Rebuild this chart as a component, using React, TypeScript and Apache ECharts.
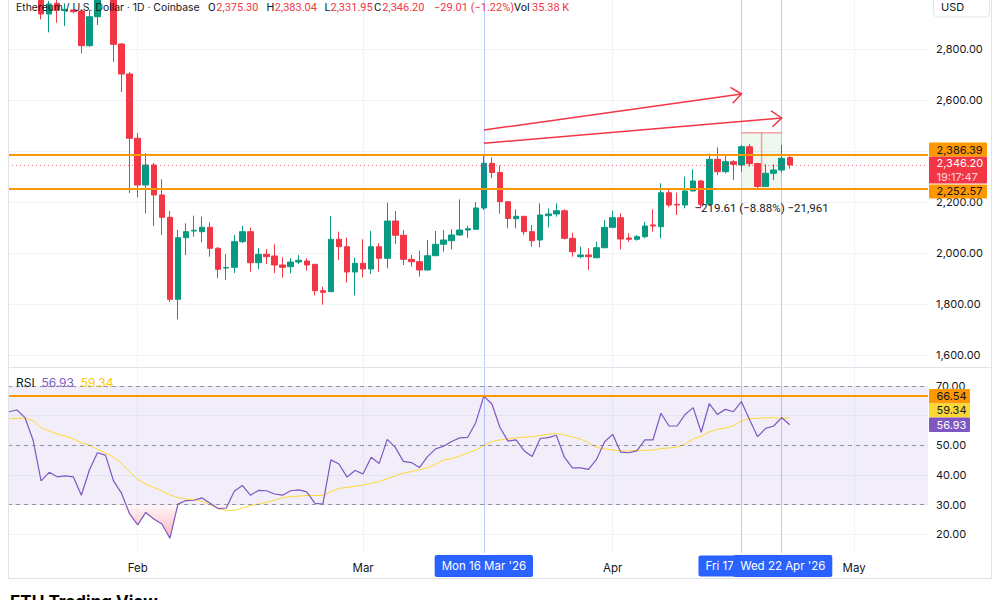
import React, { useEffect, useRef } from "react";
import * as echarts from "echarts";

// ---------- DATA ----------
const firstCandleDate = "2026-01-20";
const candleOpen = [
  3010, 2938.4, 2980.4, 2951.3, 2954.1, 2950.2, 2814.1, 2927.8, 3005, 3000, 2820.7, 2703.1,
  2450.9, 2267.7, 2346.2, 2228.5, 2141.0, 1819.4, 2061.0, 2087.3, 2084.6, 2101.8, 2019.5, 1942.2, 1945.0, 2045.4,
  2084.6, 1962.9, 1995.9, 1989.2, 1954.0, 1947.3, 1965.7, 1969.7, 1956.7, 1853.2, 1849.3, 2054.8, 2025.7, 1926.5,
  1960.6, 1938.3, 2025.7, 1980.2, 2126.5, 2070.5, 1976.3, 1966.9, 1934.4, 1990.4, 2035.2, 2049.3, 2071.6, 2091.2,
  2094.0, 2177.5, 2352.8, 2316.8, 2202.2, 2135.5, 2144.9, 2084.6, 2052.0, 2147.3, 2154.0, 2166.9, 2058.7, 1986.5,
  1993.2, 1982.6, 2021.8,
  2101.8, 2139.5, 2059.9, 2054.8, 2065.0, 2110.9, 2104.2, 2237.5, 2192.0, 2189.3, 2244.2, 2283.4, 2192.0, 2368.5,
  2319.9, 2359.1, 2346.2, 2417.9, 2352.0, 2261.8, 2313.6, 2326.6, 2375.3,
];
const candleHigh = [
  3030, 2990, 2996, 2980.4, 2958.0, 2958.0, 2954.1, 3020, 3045, 3012, 2824.7, 2710.9,
  2471.7, 2393.2, 2354.0, 2290.1, 2165.8, 2091.2, 2117.5, 2147.3, 2143.4, 2121.4, 2024.6, 1997.1, 2071.6, 2107.0,
  2100.3, 2020.6, 2016.7, 2035.2, 1984.1, 1980.2, 1993.2, 1980.2, 1957.9, 1868.9, 2146.2, 2084.6, 2062.6, 1982.6,
  2054.8, 2087.3, 2039.1, 2198.3, 2165.8, 2091.2, 1993.2, 2010.1, 2052.0, 2087.3, 2091.2, 2094.0, 2211.6, 2107.0,
  2201.1, 2386.39, 2376.4, 2344.2, 2205.0, 2172.4, 2146.2, 2110.9, 2195.9, 2176.3, 2195.9, 2172.4, 2080.7, 2025.7,
  2019.5, 2045.4, 2130.5,
  2167.0, 2156.8, 2078.3, 2071.6, 2123.8, 2172.4, 2274.4, 2248.1, 2237.5, 2300.3, 2329.3, 2287.3, 2392.1, 2415.6,
  2385.4, 2365.8, 2424.6, 2428.5, 2355.2, 2348.9, 2348.9, 2424.6, 2383.04,
];
const candleLow = [
  2917.6, 2866.6, 2904.3, 2891.3, 2941.1, 2784.3, 2810.1, 2895.3, 2996, 2750.1, 2632.5, 2236.4,
  2219.5, 2156.8, 2106.9, 2071.6, 1808.9, 1741.0, 1993.2, 2065.0, 2043.0, 1986.5, 1901.8, 1895.1, 1922.6, 2040.3,
  1927.7, 1938.3, 1957.9, 1922.6, 1904.2, 1921.4, 1957.9, 1931.6, 1835.1, 1798.3, 1849.3, 1973.6, 1884.6, 1835.1,
  1905.7, 1918.7, 1927.7, 1941.0, 2036.3, 1954.0, 1947.3, 1908.1, 1931.6, 1990.4, 2006.2, 2015.6, 2068.9, 2061.0,
  2091.2, 2169.7, 2294.0, 2155.2, 2097.9, 2097.9, 2071.6, 2025.7, 2023.4, 2101.8, 2143.4, 2054.8, 1986.5, 1980.2,
  1934.4, 1980.2, 2019.5,
  2097.9, 2015.6, 2045.4, 2049.3, 2058.7, 2084.6, 2058.7, 2180.3, 2150.1, 2176.3, 2244.2, 2176.3, 2189.3, 2307.0,
  2313.6, 2287.3, 2319.9, 2339.5, 2252.57, 2259.9, 2287.3, 2316.0, 2331.95,
];
const candleClose = [
  2938.4, 2977.6, 2954.1, 2956.8, 2947.4, 2814.1, 2927.8, 3005, 3000, 2819.5, 2703.1, 2450.9,
  2267.7, 2346.2, 2228.5, 2141.0, 1819.4, 2061.0, 2084.6, 2090.0, 2101.8, 2019.5, 1937.1, 1944.2, 2045.4, 2084.6,
  1962.9, 1995.9, 1986.5, 1954.0, 1945.0, 1965.7, 1972.4, 1954.0, 1853.2, 1846.9, 2054.8, 2025.7, 1926.5, 1960.6,
  1938.3, 2025.7, 1980.2, 2126.5, 2070.5, 1976.3, 1966.9, 1934.4, 1990.4, 2035.2, 2052.0, 2071.6, 2091.2, 2096.3,
  2177.5, 2352.8, 2316.8, 2202.2, 2136.3, 2144.9, 2084.6, 2049.3, 2150.1, 2154.0, 2166.9, 2058.7, 2006.2, 1993.2,
  1986.5, 2021.8, 2101.8,
  2139.5, 2056.0, 2054.8, 2065.0, 2107.0, 2107.0, 2237.5, 2189.3, 2189.3, 2244.2, 2283.4, 2192.0, 2368.5, 2319.9,
  2359.1, 2348.9, 2417.9, 2351.3, 2261.8, 2313.6, 2326.6, 2372.4, 2346.2,
];

const firstRsiDate = "2026-01-16";
const rsiValues = [
  61.3, 61.9, 59.3, 51.8, 38.0, 40.9, 39.4, 39.7, 39.4, 33.2, 41.7, 47.5, 46.7, 38.0, 33.8, 26.9,
  23.2, 27.4, 25.2, 23.5, 18.7, 30.2, 31.4, 31.5, 32.3, 30.5, 28.7, 28.9, 34.5, 36.5, 33.2, 34.8, 34.7, 33.6,
  33.2, 34.7, 35.0, 34.3, 30.5, 30.2, 45.1, 43.7, 39.3, 41.5,
  40.4, 46.0, 43.9, 52.0, 49.3, 44.6, 44.2, 42.5, 46.2, 48.8, 49.7, 51.3, 52.5, 52.7, 57.7, 66.54, 63.9, 56.0,
  51.4, 51.8, 48.2, 46.2, 52.3, 52.6, 53.4, 46.0, 42.4, 42.4, 41.9, 45.3, 51.2,
  53.7, 47.7, 47.5, 48.1, 51.8, 51.8, 60.8, 56.5, 56.5, 60.4, 62.7, 54.4, 64.0, 60.4, 62.1, 61.3, 64.7, 58.7,
  52.9, 55.7, 56.5, 59.3, 56.93,
];
const rsiMA = [
  58.9, 59.1, 59.1, 58.3, 55.9, 54.8, 53.8, 53.1, 52.2, 50.9, 50.1, 48.6, 47.5, 46.0, 43.9, 41.1,
  38.5, 36.9, 35.8, 34.7, 33.3, 32.4, 31.9, 31.8, 31.2, 30.0, 28.7, 28.1, 28.1, 28.9, 29.7, 30.2, 30.8, 31.5,
  32.4, 32.7, 32.9, 33.1, 33.1, 33.1, 34.4, 35.5, 35.8, 36.2,
  36.6, 37.2, 37.8, 38.8, 39.7, 40.6, 41.2, 41.8, 42.4, 43.6, 45.1, 45.5, 46.4, 47.4, 48.4, 49.9, 51.3, 51.8,
  52.1, 52.5, 52.7, 52.9, 53.3, 53.7, 54.0, 53.5, 52.8, 52.1, 50.9, 49.3, 48.8,
  48.4, 48.1, 48.1, 48.3, 48.3, 48.4, 48.9, 49.1, 49.4, 50.4, 52.2, 53.0, 54.5, 55.4, 55.8, 56.6, 58.3, 59.0,
  59.1, 59.3, 59.3, 59.0, 59.34,
];

const monthStarts = ["2026-02-01", "2026-03-01", "2026-04-01", "2026-05-01"];
const monthLabels = ["Feb", "Mar", "Apr", "May"];
const priceGridTicks = [1600, 1800, 2000, 2200, 2400, 2600, 2800];
const priceLabelTicks = [1600, 1800, 2000, 2200, 2600, 2800];
const rsiGridTicks = [20, 30, 40, 50, 60, 70];
const rsiLabelTicks = [20, 30, 40, 50, 70];
const rsiDashedLevels = [70, 50, 30];
const markerDates = ["2026-03-16", "2026-04-17", "2026-04-22"];
const markerLabels = ["Mon 16 Mar '26", "Fri 17", "Wed 22 Apr '26"];
const levelHigh = 2386.39;
const levelLow = 2252.57;
const lastPrice = 2346.2;
const rsiLevel = 66.54;
const legendTitle = "Ethereum / U.S. Dollar · 1D · Coinbase";
const legendKeys = ["O", "H", "L", "C"];
const legendValues = ["2,375.30", "2,383.04", "2,331.95", "2,346.20"];
const legendChange = "\u221229.01 (\u22121.22%)";
const legendVolume = "35.38 K";
const arrowFrom = [["2026-03-16", 2483.4], ["2026-03-16", 2431.3]];
const arrowTo = [["2026-04-17", 2624.6], ["2026-04-22", 2530.5]];
const rangeDates = ["2026-04-17", "2026-04-22"];
const rangePrices = [2472.18, 2252.57];

// ---------- HELPERS ----------
const dayNum = (s: string) => {
  const [y, m, d] = s.split("-").map(Number);
  return (Date.UTC(y, m - 1, d) - Date.UTC(2026, 0, 1)) / 86400000 + 1;
};
const X_MIN = 15.89;
const X_MAX = 130.17;
const FF = "Inter, 'Noto Sans', sans-serif";
const FR = "Roboto, Inter, sans-serif";
const TXT = "#131722";
const RED = "#f23645";
const GREEN = "#089981";
const ORANGE = "#ff9800";
const PURPLE = "#7e57c2";
const YELLOW = "#fdd835";
const fmt2 = (v: number) =>
  v.toLocaleString("en-US", { minimumFractionDigits: 2, maximumFractionDigits: 2 });

export default function App() {
  const ref = useRef<HTMLDivElement>(null);
  useEffect(() => {
    if (!ref.current) return;
    const chart = echarts.init(ref.current, undefined, { renderer: "svg" });
    const c0 = dayNum(firstCandleDate);
    const candleData = candleOpen.map((o, i) => [c0 + i, o, candleClose[i], candleLow[i], candleHigh[i]]);
    const r0 = dayNum(firstRsiDate);
    const rsiData = rsiValues.map((v, i) => [r0 + i, v]);
    const maData = rsiMA.map((v, i) => [r0 + i, v]);
    const osData = rsiValues.map((v, i) => [r0 + i, Math.min(v, 30)]);
    const monthDays = monthStarts.map(dayNum);
    const vLines = markerDates.map((d) => ({ xAxis: dayNum(d) }));
    const vLineStyle = { color: "rgba(41,98,255,0.32)", width: 1, type: "solid" };

    const xAxisBase = (gi: number) => ({
      type: "value",
      gridIndex: gi,
      min: X_MIN,
      max: X_MAX,
      axisLine: { show: false },
      axisTick: { show: false, customValues: monthDays },
      splitLine: { show: true, lineStyle: { color: "#f0f3fa", width: 1 } },
      axisLabel:
        gi === 1
          ? {
              show: true,
              customValues: monthDays,
              formatter: (v: number) => {
                const k = monthDays.findIndex((m) => Math.abs(m - v) < 0.01);
                return k >= 0 ? monthLabels[k] : "";
              },
              color: TXT,
              fontSize: 11.5,
              fontFamily: FF,
              margin: 9,
            }
          : { show: false },
    });

    const option: any = {
      animation: false,
      backgroundColor: "#ffffff",
      grid: [
        { left: 8, top: 0, width: 920, height: 367 },
        { left: 8, top: 368, width: 920, height: 185 },
      ],
      xAxis: [xAxisBase(0), xAxisBase(1)],
      yAxis: [
        {
          type: "value",
          gridIndex: 0,
          position: "right",
          min: 1553.9,
          max: 2993.3,
          axisLine: { show: false },
          axisTick: { show: false, customValues: priceGridTicks },
          axisLabel: {
            customValues: priceLabelTicks,
            formatter: (v: number) => fmt2(v),
            color: TXT,
            fontSize: 11,
            fontFamily: FF,
            margin: 8,
          },
          splitLine: { lineStyle: { color: "#f0f3fa" } },
        },
        {
          type: "value",
          gridIndex: 1,
          position: "right",
          min: 13.74,
          max: 76.03,
          axisLine: { show: false },
          axisTick: { show: false, customValues: rsiGridTicks },
          axisLabel: {
            customValues: rsiLabelTicks,
            formatter: (v: number) => v.toFixed(2),
            color: TXT,
            fontSize: 11,
            fontFamily: FF,
            margin: 8,
          },
          splitLine: { lineStyle: { color: "#f0f3fa" } },
        },
      ],
      series: [
        {
          type: "candlestick",
          xAxisIndex: 0,
          yAxisIndex: 0,
          data: candleData,
          barWidth: 6,
          clip: true,
          itemStyle: {
            color: GREEN,
            color0: RED,
            borderColor: GREEN,
            borderColor0: RED,
            borderWidth: 1,
          },
          markLine: {
            silent: true,
            symbol: "none",
            label: { show: false },
            data: [
              ...vLines.map((v) => ({ ...v, lineStyle: vLineStyle })),
              { yAxis: lastPrice, lineStyle: { color: RED, width: 1, type: [1, 3], opacity: 0.7 } },
              { yAxis: levelHigh, lineStyle: { color: ORANGE, width: 2, type: "solid" } },
              { yAxis: levelLow, lineStyle: { color: ORANGE, width: 2, type: "solid" } },
            ],
          },
        },
        {
          type: "line",
          xAxisIndex: 1,
          yAxisIndex: 1,
          data: osData,
          symbol: "none",
          silent: true,
          lineStyle: { opacity: 0, width: 0 },
          areaStyle: {
            origin: 30,
            color: new echarts.graphic.LinearGradient(0, 0, 0, 1, [
              { offset: 0, color: "rgba(242,54,69,0.06)" },
              { offset: 1, color: "rgba(242,54,69,0.5)" },
            ]),
          },
          z: 2,
        },
        {
          type: "line",
          xAxisIndex: 1,
          yAxisIndex: 1,
          data: maData,
          symbol: "none",
          silent: true,
          lineStyle: { color: YELLOW, width: 1 },
          z: 3,
        },
        {
          type: "line",
          xAxisIndex: 1,
          yAxisIndex: 1,
          data: rsiData,
          symbol: "none",
          silent: true,
          lineStyle: { color: PURPLE, width: 1.2 },
          z: 4,
          markArea: {
            silent: true,
            itemStyle: { color: "rgba(126,87,194,0.1)" },
            data: [[{ yAxis: 30 }, { yAxis: 70 }]],
          },
          markLine: {
            silent: true,
            symbol: "none",
            label: { show: false },
            data: [
              ...rsiDashedLevels.map((l) => ({
                yAxis: l,
                lineStyle: { color: "rgba(120,123,134,0.75)", width: 1, type: [4, 4] },
              })),
              ...vLines.map((v) => ({ ...v, lineStyle: vLineStyle })),
              { yAxis: rsiLevel, lineStyle: { color: ORANGE, width: 2, type: "solid" } },
            ],
          },
        },
      ],
    };
    chart.setOption(option);

    const P = (d: number, v: number) => chart.convertToPixel({ gridIndex: 0 }, [d, v]) as number[];
    const R = (d: number, v: number) => chart.convertToPixel({ gridIndex: 1 }, [d, v]) as number[];
    const g: any[] = [];
    const txt = (x: number, y: number, text: string, fill: string, font: string, extra: any = {}, z = 80) =>
      g.push({ type: "text", x, y, z, silent: true, style: { text, fill, font, verticalAlign: "middle", ...extra } });

    // widget frame
    g.push({ type: "rect", shape: { x: 8.5, y: -10, width: 983, height: 588.5 }, style: { fill: "none", stroke: "#e0e3eb", lineWidth: 1 }, z: 50, silent: true });
    g.push({ type: "line", shape: { x1: 8.5, y1: 367.5, x2: 991.5, y2: 367.5 }, style: { stroke: "#e0e3eb", lineWidth: 1 }, z: 50, silent: true });

    // arrows
    arrowFrom.forEach((f, i) => {
      const a = P(dayNum(f[0] as string), f[1] as number);
      const b = P(dayNum(arrowTo[i][0] as string), arrowTo[i][1] as number);
      const dx = b[0] - a[0], dy = b[1] - a[1];
      const len = Math.hypot(dx, dy);
      const ux = dx / len, uy = dy / len, nx = -uy, ny = ux;
      g.push({ type: "line", shape: { x1: a[0], y1: a[1], x2: b[0], y2: b[1] }, style: { stroke: RED, lineWidth: 1.5 }, z: 40, silent: true });
      g.push({
        type: "polyline",
        shape: { points: [[b[0] - 10 * ux + 8 * nx, b[1] - 10 * uy + 8 * ny], [b[0], b[1]], [b[0] - 10 * ux - 8 * nx, b[1] - 10 * uy - 8 * ny]] },
        style: { stroke: RED, lineWidth: 1.5, fill: "none" },
        z: 40,
        silent: true,
      });
    });

    // price range tool
    const rA = P(dayNum(rangeDates[0]), rangePrices[0]);
    const rB = P(dayNum(rangeDates[1]), rangePrices[1]);
    const midX = (rA[0] + rB[0]) / 2;
    g.push({ type: "rect", shape: { x: rA[0], y: rA[1], width: rB[0] - rA[0], height: rB[1] - rA[1] }, style: { fill: "rgba(76,175,80,0.09)" }, z: 1, silent: true });
    g.push({ type: "line", shape: { x1: rA[0], y1: rA[1], x2: rB[0], y2: rA[1] }, style: { stroke: "rgba(242,54,69,0.45)", lineWidth: 1.5 }, z: 30, silent: true });
    g.push({ type: "line", shape: { x1: midX, y1: rA[1], x2: midX, y2: rB[1] - 2 }, style: { stroke: "rgba(242,54,69,0.45)", lineWidth: 1.5 }, z: 30, silent: true });
    const diff = rangePrices[1] - rangePrices[0];
    const pct = (diff / rangePrices[0]) * 100;
    const rangeText = `${diff < 0 ? "\u2212" : ""}${fmt2(Math.abs(diff))} (${pct < 0 ? "\u2212" : ""}${Math.abs(pct).toFixed(2)}%) ${diff < 0 ? "\u2212" : ""}${Math.round(Math.abs(diff) * 100).toLocaleString("en-US")}`;
    txt(midX, rB[1] + 19, rangeText, TXT, `11.5px ${FR}`, { align: "center" }, 60);

    // header legend
    txt(16, 7, legendTitle, TXT, `10.4px ${FF}`);
    const keyX = [208, 266.5, 324.5, 374];
    legendKeys.forEach((k, i) => {
      txt(keyX[i], 7, k, TXT, `11px ${FR}`);
      txt(keyX[i] + (k === "L" ? 6 : 8.3), 7, legendValues[i], RED, `11px ${FR}`);
    });
    txt(434, 7, legendChange, RED, `11px ${FR}`);
    txt(514, 7, "Vol", TXT, `11px ${FR}`);
    txt(532, 7, legendVolume, RED, `11px ${FR}`);

    g.push({
      type: "text",
      x: 16,
      y: 382,
      z: 80,
      silent: true,
      style: {
        text: "{k|RSI}  {p|56.93}  {y|59.34}",
        verticalAlign: "middle",
        font: `12px ${FF}`,
        rich: {
          k: { fill: TXT, font: `12px ${FF}` },
          p: { fill: PURPLE, font: `12px ${FF}` },
          y: { fill: "#f9c80e", font: `12px ${FF}` },
        },
      },
    });

    // USD box
    g.push({ type: "rect", shape: { x: 933.5, y: -6, width: 56, height: 23, r: 4 }, style: { fill: "#fff", stroke: "#e0e3eb" }, z: 70, silent: true });
    txt(941, 7, "USD", TXT, `11px ${FF}`, {}, 71);

    // price axis labels
    const yCur = P(0, lastPrice)[1];
    const redTop = yCur - 8.3;
    const redH = 26.8;
    const boxX = 929;
    const boxW = 58;
    const priceBox = (y: number, h: number, fill: string) =>
      g.push({ type: "rect", shape: { x: boxX, y, width: boxW, height: h, r: 1 }, style: { fill }, z: 70, silent: true });
    const priceTxt = (y: number, text: string, fill: string) => txt(936.5, y, text, fill, `11px ${FF}`, {}, 71);
    priceBox(redTop - 14.3, 14.3, ORANGE);
    priceTxt(redTop - 7.1, fmt2(levelHigh), TXT);
    priceBox(redTop, redH, RED);
    priceTxt(redTop + 6.7, fmt2(lastPrice), "#ffffff");
    priceTxt(redTop + 20, "19:17:47", "rgba(255,255,255,0.8)");
    priceBox(redTop + redH + 1, 14, ORANGE);
    priceTxt(redTop + redH + 8, fmt2(levelLow), TXT);

    // rsi axis labels
    const yO = R(0, rsiLevel)[1];
    const yP = R(0, rsiValues[rsiValues.length - 1])[1];
    const bh = 14.5;
    const rsiBox = (y: number, h: number, fill: string) =>
      g.push({ type: "rect", shape: { x: boxX, y, width: 41, height: h, r: 1 }, style: { fill }, z: 70, silent: true });
    rsiBox(yO - bh / 2, bh, ORANGE);
    priceTxt(yO, rsiLevel.toFixed(2), TXT);
    rsiBox(yO + bh / 2, yP - bh / 2 - (yO + bh / 2), YELLOW);
    priceTxt((yO + bh / 2 + yP - bh / 2) / 2, rsiMA[rsiMA.length - 1].toFixed(2), TXT);
    rsiBox(yP - bh / 2, bh, PURPLE);
    priceTxt(yP, rsiValues[rsiValues.length - 1].toFixed(2), "#ffffff");

    // time axis marker labels
    const mx = markerDates.map((d) => R(dayNum(d), 50)[0]);
    txt(mx[0], 566, markerLabels[0], "#ffffff", `11.5px ${FF}`, { align: "center", backgroundColor: "#2962ff", padding: [5, 7, 5, 7], borderRadius: 2 }, 80);
    g.push({ type: "rect", shape: { x: mx[1] - 43, y: 555.5, width: 50, height: 21, r: 2 }, style: { fill: "#2962ff" }, z: 80, silent: true });
    txt(mx[1] - 36, 566, markerLabels[1], "#ffffff", `11.5px ${FF}`, {}, 81);
    txt(mx[2] + 1, 566, markerLabels[2], "#ffffff", `11.5px ${FF}`, { align: "center", backgroundColor: "#2962ff", padding: [5, 7, 5, 7], borderRadius: 2 }, 82);

    // bottom title (cut off by the page edge, as in the source)
    g.push({ type: "text", x: 10, y: 593, style: { text: "ETH Trading View", fill: "#000", font: `bold 17px ${FF}`, verticalAlign: "top" }, z: 80, silent: true });

    chart.setOption({ graphic: g });
    return () => chart.dispose();
  }, []);
  return <div ref={ref} style={{ position: "fixed", left: 0, top: 0, width: 1000, height: 600 }} />;
}
